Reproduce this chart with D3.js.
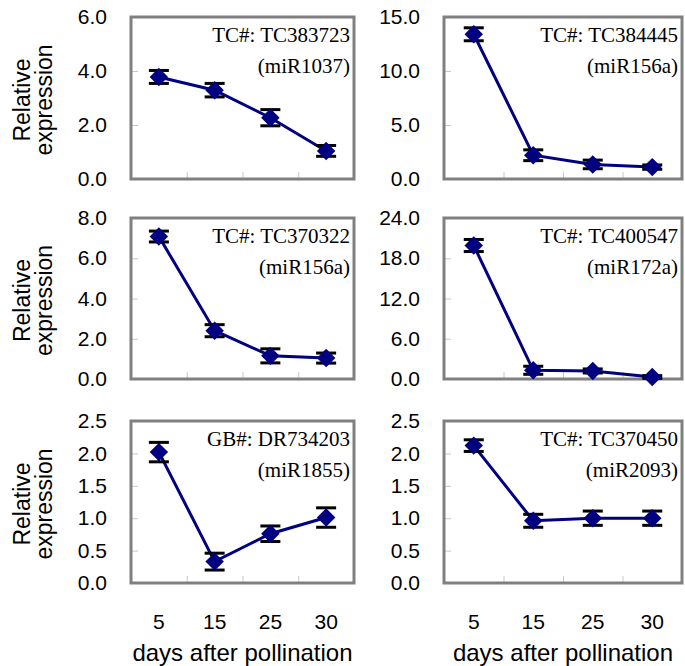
<!DOCTYPE html>
<html>
<head>
<script src="https://cdn.jsdelivr.net/npm/d3@7"></script>
<style>
  body { margin: 0; background: #fff; }
</style>
</head>
<body>
<svg width="685" height="666" font-family="Liberation Sans, Arial, sans-serif"></svg>
<script>
// x categories (days after pollination)
const days = ["5", "15", "25", "30"];

// one entry per panel, left to right, top to bottom
const geneIds = ["TC#: TC383723", "TC#: TC384445", "TC#: TC370322", "TC#: TC400547", "GB#: DR734203", "TC#: TC370450"];
const mirNames = ["(miR1037)", "(miR156a)", "(miR156a)", "(miR172a)", "(miR1855)", "(miR2093)"];
const yMaxes = [6, 15, 8, 24, 2.5, 2.5];
const yTickVals = [
  [0, 2, 4, 6],
  [0, 5, 10, 15],
  [0, 2, 4, 6, 8],
  [0, 6, 12, 18, 24],
  [0, 0.5, 1, 1.5, 2, 2.5],
  [0, 0.5, 1, 1.5, 2, 2.5]
];
const means = [
  [3.78, 3.29, 2.27, 1.04],
  [13.4, 2.2, 1.35, 1.1],
  [7.08, 2.4, 1.15, 1.04],
  [19.9, 1.3, 1.2, 0.3],
  [2.02, 0.33, 0.76, 1.01],
  [2.12, 0.96, 1.0, 1.0]
];
const errs = [
  [0.24, 0.25, 0.3, 0.2],
  [0.6, 0.5, 0.4, 0.2],
  [0.27, 0.3, 0.35, 0.25],
  [0.9, 0.6, 0.3, 0.2],
  [0.15, 0.13, 0.12, 0.15],
  [0.09, 0.1, 0.11, 0.11]
];

const svg = d3.select("svg");
const colX = [[131, 354], [444, 682]];
const rowY = [[17, 179], [218, 379], [421, 583]];
const navy = "#000080";
const sans = "Liberation Sans, Arial, sans-serif";
const serif = "Liberation Serif, Times New Roman, serif";
const fmt = d3.format(".1f");

for (let p = 0; p < 6; p++) {
  const col = p % 2, row = Math.floor(p / 2);
  const [l, r] = colX[col], [t, b] = rowY[row];
  const g = svg.append("g");

  const x = d3.scaleBand().domain(days).range([l, r]).padding(0);
  const xEdge = d3.scaleLinear().domain([0, 4]).range([l, r]);
  const y = d3.scaleLinear().domain([0, yMaxes[p]]).range([b, t]);

  // y tick labels
  g.append("g").attr("transform", `translate(${l},0)`)
    .call(d3.axisLeft(y).tickValues(yTickVals[p]).tickFormat(fmt).tickSize(0).tickPadding(24))
    .call(a => a.select(".domain").remove())
    .call(a => a.selectAll("text").attr("fill", "#000")
      .style("font-size", "21px").style("font-family", sans));

  // inner tick marks
  g.append("g").attr("transform", `translate(${l},0)`)
    .call(d3.axisRight(y).tickValues(yTickVals[p].slice(1, -1)).tickFormat("").tickSize(7))
    .call(a => a.select(".domain").remove())
    .call(a => a.selectAll("line").attr("stroke", "#c8c8c8"));
  g.append("g").attr("transform", `translate(0,${b})`)
    .call(d3.axisTop(xEdge).tickValues([1, 2, 3]).tickFormat("").tickSize(7))
    .call(a => a.select(".domain").remove())
    .call(a => a.selectAll("line").attr("stroke", "#c8c8c8"));

  // frame
  g.append("rect").attr("x", l).attr("y", t).attr("width", r - l).attr("height", b - t)
    .attr("fill", "none").attr("stroke", "#808080").attr("stroke-width", 3);

  // x labels on the bottom row
  if (row === 2) {
    g.append("g").attr("transform", `translate(0,${b})`)
      .call(d3.axisBottom(x).tickSize(0).tickPadding(31))
      .call(a => a.select(".domain").remove())
      .call(a => a.selectAll("text").attr("fill", "#000")
        .style("font-size", "21px").style("font-family", sans));
    g.append("text").attr("x", (l + r) / 2).attr("y", 661)
      .attr("text-anchor", "middle").style("font-size", "24px").style("font-family", sans)
      .text("days after pollination");
  }

  // y title on the left column
  if (col === 0) {
    const cy = (t + b) / 2 + 2;
    const yt = g.append("text").attr("transform", `translate(0,${cy}) rotate(-90)`)
      .attr("text-anchor", "middle").style("font-size", "23px").style("font-family", sans);
    yt.append("tspan").attr("x", 0).attr("y", 30).text("Relative");
    yt.append("tspan").attr("x", 0).attr("y", 52).text("expression");
  }

  // gene annotation
  const ann = g.append("text").attr("text-anchor", "end")
    .style("font-size", "21px").style("font-family", serif);
  ann.append("tspan").attr("x", r - 4).attr("y", t + 25).text(geneIds[p]);
  ann.append("tspan").attr("x", r - 4).attr("y", t + 56).text(mirNames[p]);

  const pts = days.map((d, i) => ({ d, m: means[p][i], e: errs[p][i] }));
  const cx = d => x(d.d) + x.bandwidth() / 2;

  // connecting line
  g.append("path").datum(pts)
    .attr("d", d3.line().x(cx).y(d => y(d.m)))
    .attr("fill", "none").attr("stroke", navy).attr("stroke-width", 3);

  // error bars
  const eb = g.selectAll(".eb").data(pts).enter().append("g");
  eb.append("line").attr("x1", cx).attr("x2", cx)
    .attr("y1", d => y(d.m + d.e)).attr("y2", d => y(d.m - d.e))
    .attr("stroke", "#000").attr("stroke-width", 2);
  [1, -1].forEach(s => {
    eb.append("line").attr("x1", d => cx(d) - 10).attr("x2", d => cx(d) + 10)
      .attr("y1", d => y(d.m + s * d.e)).attr("y2", d => y(d.m + s * d.e))
      .attr("stroke", "#000").attr("stroke-width", 3);
  });

  // diamond markers
  g.selectAll(".mk").data(pts).enter().append("path")
    .attr("d", d3.symbol(d3.symbolSquare, 170)())
    .attr("transform", d => `translate(${cx(d)},${y(d.m)}) rotate(45)`)
    .attr("fill", navy);
}
</script>
</body>
</html>
